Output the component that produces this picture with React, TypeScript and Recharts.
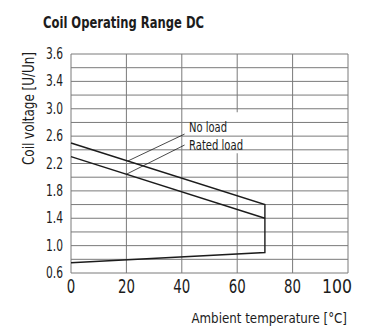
import {
  LineChart,
  Line,
  XAxis,
  YAxis,
  CartesianGrid,
  ReferenceLine,
  ReferenceArea,
  ReferenceDot,
} from 'recharts'

const FONT = '"Liberation Sans Narrow", "DejaVu Sans Condensed", Roboto, sans-serif'
const INK = '#1c1c1c'
const GRID = '#7a7a7a'

// operating range outline: ambient temperature [°C] -> coil voltage [U/Un]
const boundaryTemp = [0, 70, 70, 0]
const boundaryVolt = [2.5, 1.6, 0.9, 0.75]
const ratedTemp = [0, 70]
const ratedVolt = [2.3, 1.4]

const xTicks = [0, 20, 40, 60, 80, 100]
const yTicks = [0.6, 1.0, 1.4, 1.8, 2.2, 2.6, 3.0, 3.4, 3.8]
// the original sheet labels the top line 3.6
const yTickLabels = ['0.6', '1.0', '1.4', '1.8', '2.2', '2.6', '3.0', '3.4', '3.6']
const yGrid = [0.6, 0.8, 1.0, 1.2, 1.4, 1.6, 1.8, 2.0, 2.2, 2.4, 2.6, 2.8, 3.0, 3.2, 3.4, 3.6, 3.8]

// annotation leaders (temp, volt)
const noLoadLeader = [{ x: 20.5, y: 2.236 }, { x: 41, y: 2.63 }]
const ratedLeader = [{ x: 20, y: 2.043 }, { x: 41, y: 2.47 }]

const boundaryData = boundaryTemp.map((t, i) => ({ t, v: boundaryVolt[i] }))
const ratedData = ratedTemp.map((t, i) => ({ t, v: ratedVolt[i] }))

// eslint-disable-next-line @typescript-eslint/no-explicit-any
const XTick = ({ x, y, payload }: any) => {
  const s = String(payload.value)
  const last = payload.value === 100
  return (
    <text
      x={last ? x + 4 : x}
      y={y + 20}
      textAnchor={last ? 'end' : 'middle'}
      fontFamily={FONT}
      fontSize={20}
      fill={INK}
      textLength={s.length === 3 ? 30 : s.length * 8.5}
      lengthAdjust="spacingAndGlyphs"
    >
      {s}
    </text>
  )
}

// eslint-disable-next-line @typescript-eslint/no-explicit-any
const YTick = ({ x, y, index }: any) => (
  <text
    x={x}
    y={y + 5}
    textAnchor="end"
    fontFamily={FONT}
    fontSize={15}
    fill={INK}
    textLength={17}
    lengthAdjust="spacingAndGlyphs"
  >
    {yTickLabels[index]}
  </text>
)

// eslint-disable-next-line @typescript-eslint/no-explicit-any
const noteLabel = (text: string, len: number) => (p: any) => (
  <text
    x={p.viewBox.x}
    y={p.viewBox.y}
    fontFamily={FONT}
    fontSize={14}
    fill={INK}
    textLength={len}
    lengthAdjust="spacingAndGlyphs"
  >
    {text}
  </text>
)

export default function App() {
  return (
    <div style={{ position: 'absolute', left: 0, top: 0, width: 366, height: 332, background: '#fff' }}>
      <LineChart width={366} height={332} margin={{ top: 54, right: 18, bottom: 0, left: 0 }}>
        <CartesianGrid horizontal={false} stroke={GRID} strokeWidth={1} />
        <XAxis
          dataKey="t"
          type="number"
          domain={[0, 100]}
          ticks={xTicks}
          height={59}
          axisLine={false}
          tickLine={false}
          tickSize={0}
          tickMargin={0}
          tick={<XTick />}
        />
        <YAxis
          type="number"
          domain={[0.6, 3.8]}
          ticks={yTicks}
          width={71}
          axisLine={false}
          tickLine={false}
          tickSize={0}
          tickMargin={8}
          tick={<YTick />}
        />
        {yGrid.map((v) => (
          <ReferenceLine key={v} y={v} stroke={GRID} strokeWidth={1} />
        ))}
        <ReferenceArea x1={41.5} x2={63.5} y1={2.35} y2={2.95} fill="#fff" fillOpacity={1} stroke="none" />
        <ReferenceLine segment={noLoadLeader} stroke={INK} strokeWidth={0.8} />
        <ReferenceLine segment={ratedLeader} stroke={INK} strokeWidth={0.8} />
        <ReferenceDot x={42.6} y={2.664} r={0} fill="none" stroke="none" label={noteLabel('No load', 38)} />
        <ReferenceDot x={42.6} y={2.395} r={0} fill="none" stroke="none" label={noteLabel('Rated load', 54)} />
        <Line
          data={boundaryData}
          dataKey="v"
          stroke={INK}
          strokeWidth={1.4}
          dot={false}
          activeDot={false}
          type="linear"
          isAnimationActive={false}
        />
        <Line
          data={ratedData}
          dataKey="v"
          stroke={INK}
          strokeWidth={1.4}
          dot={false}
          activeDot={false}
          type="linear"
          isAnimationActive={false}
        />
        <text
          x={43}
          y={27.5}
          fontFamily={FONT}
          fontWeight="bold"
          fontSize={15}
          fill={INK}
          textLength={161}
          lengthAdjust="spacingAndGlyphs"
        >
          Coil Operating Range DC
        </text>
        <text
          x={28.5}
          y={108.5}
          transform="rotate(-90 28.5 108.5)"
          textAnchor="middle"
          dominantBaseline="central"
          fontFamily={FONT}
          fontSize={16}
          fill={INK}
          textLength={113}
          lengthAdjust="spacingAndGlyphs"
        >
          Coil voltage [U/Un]
        </text>
        <text x={347} y={323} textAnchor="end" fontFamily={FONT} fontSize={13.2} fill={INK}>
          Ambient temperature [°C]
        </text>
      </LineChart>
    </div>
  )
}
